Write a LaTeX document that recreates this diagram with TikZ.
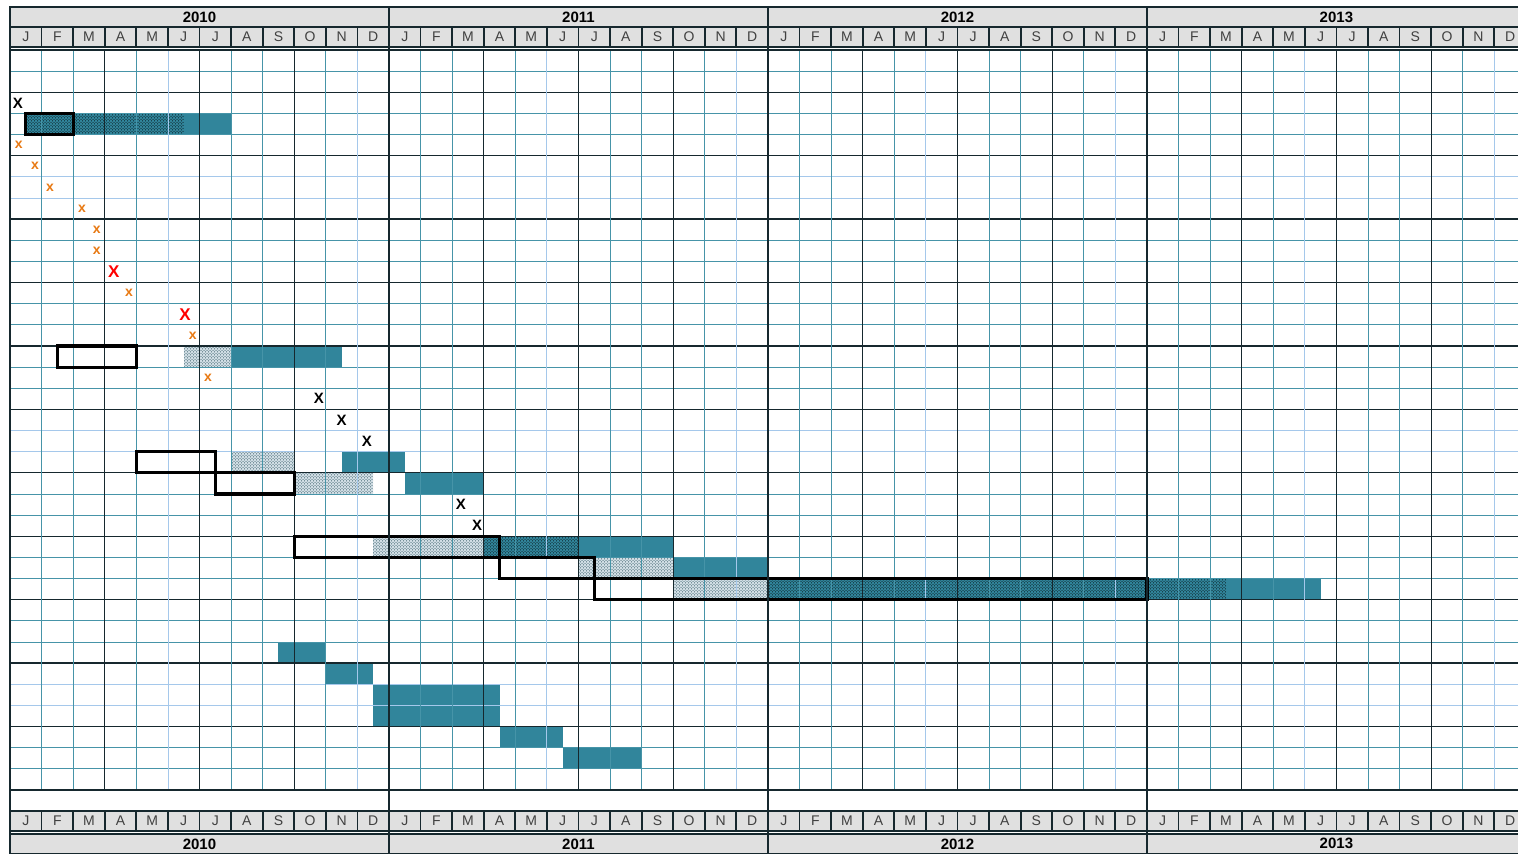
\documentclass[tikz,border=0pt]{standalone}
\usepackage{fontspec}
\setmainfont{Liberation Sans}
\usetikzlibrary{patterns}

\definecolor{barteal}{RGB}{49,133,155}
\definecolor{gridteal}{RGB}{70,148,168}
\definecolor{gridlight}{RGB}{165,200,235}
\definecolor{griddark}{RGB}{22,40,46}
\definecolor{headgray}{RGB}{224,224,224}
\definecolor{markorange}{RGB}{232,122,20}
\definecolor{hatchbg}{RGB}{210,223,230}

\tikzset{
  bar/.style={fill=barteal},
  darkhatch/.style={pattern=crosshatch dots, pattern color=black},
  lighthatch/.style={fill=hatchbg, postaction={pattern=crosshatch dots, pattern color=barteal!50!black}},
  planbox/.style={draw=black, line width=3.2pt},
  minorline/.style={draw=gridteal, line width=0.8pt},
  lightline/.style={draw=gridlight, line width=0.8pt},
  majorline/.style={draw=griddark, line width=1.3pt},
  yearline/.style={draw=griddark, line width=2.2pt},
  yearcell/.style={fill=headgray, draw=griddark, line width=1.6pt},
  monthcell/.style={fill=headgray, draw=griddark, line width=1.8pt},
  yearlbl/.style={font=\fontsize{15}{15}\selectfont\bfseries},
  monthlbl/.style={font=\fontsize{14}{14}\selectfont, text=black!75},
  mkblack/.style={font=\fontsize{15}{15}\selectfont\bfseries},
  mkorange/.style={font=\fontsize{14}{14}\selectfont\bfseries, text=markorange},
  mkred/.style={font=\fontsize{17}{17}\selectfont\bfseries, text=red},
}

\begin{document}
\begin{tikzpicture}[x=31.58pt,y=-21.14pt]
\useasboundingbox (-0.317,-2.365) rectangle (47.75,38.19);
\clip (-0.317,-2.365) rectangle (47.75,38.19);
\fill[white] (-0.317,-2.365) rectangle (47.75,38.19);

% bars
\fill[bar] (0.5,3) rectangle (7,4);
\fill[darkhatch] (0.5,3) rectangle (5.5,4);
\fill[lighthatch] (5.5,14) rectangle (7,15);
\fill[bar] (7,14) rectangle (10.5,15);
\fill[lighthatch] (7,19) rectangle (9,20);
\fill[bar] (10.5,19) rectangle (12.5,20);
\fill[lighthatch] (9,20) rectangle (11.5,21);
\fill[bar] (12.5,20) rectangle (15,21);
\fill[lighthatch] (11.5,23) rectangle (15,24);
\fill[bar] (15,23) rectangle (21,24);
\fill[darkhatch] (15,23) rectangle (18,24);
\fill[lighthatch] (18,24) rectangle (21,25);
\fill[bar] (21,24) rectangle (24,25);
\fill[lighthatch] (21,25) rectangle (24,26);
\fill[bar] (24,25) rectangle (41.5,26);
\fill[darkhatch] (24,25) rectangle (38.5,26);
\fill[bar] (8.5,28) rectangle (10,29);
\fill[bar] (10,29) rectangle (11.5,30);
\fill[bar] (11.5,30) rectangle (15.5,32);
\fill[bar] (15.5,32) rectangle (17.5,33);
\fill[bar] (17.5,33) rectangle (20,34);

% grid
\foreach \r in {1,...,34} \draw[minorline] (0,\r) -- (48,\r);
\foreach \r in {6,7,18,19,30,31} \draw[lightline] (0,\r) -- (48,\r);
\foreach \r in {2,5,...,32} \draw[majorline] (0,\r) -- (48,\r);
\foreach \m in {1,...,47} \draw[minorline] (\m,0) -- (\m,35);
\foreach \m in {5,11,17,23,29,35,41,47} \draw[lightline] (\m,0) -- (\m,35);
\foreach \m in {3,6,...,45} \draw[majorline] (\m,0) -- (\m,35);
\draw[majorline] (0,-0.14) -- (48,-0.14);
\draw[yearline] (0,0) -- (48,0);
\draw[yearline] (0,35) -- (48,35);
\draw[majorline] (0,36) -- (48,36);

% plan boxes
\draw[planbox] (0.5,3) rectangle (2,4);
\draw[planbox] (1.5,14) rectangle (4,15);
\draw[planbox] (4,19) rectangle (6.5,20);
\draw[planbox] (6.5,20) rectangle (9,21);
\draw[planbox] (9,23) rectangle (15.5,24);
\draw[planbox] (15.5,24) rectangle (18.5,25);
\draw[planbox] (18.5,25) rectangle (36,26);

% header and footer
\foreach \yr [count=\k from 0] in {2010,2011,2012,2013} {
  \draw[yearcell] (12*\k,-2.03) rectangle ++(12,0.94);
  \node[yearlbl] (topyear\yr) at (12*\k+6,-1.56) {\yr};
  \draw[yearcell] (12*\k,37.09) rectangle ++(12,0.91);
  \node[yearlbl] (botyear\yr) at (12*\k+6,37.55) {\yr};
  \foreach \mo [count=\j from 0] in {J,F,M,A,M,J,J,A,S,O,N,D} {
    \draw[monthcell] (12*\k+\j,-1.09) rectangle ++(1,0.95);
    \node[monthlbl] (topmonth\k-\j) at (12*\k+\j+0.5,-0.615) {\mo};
    \draw[monthcell] (12*\k+\j,36) rectangle ++(1,0.95);
    \node[monthlbl] (botmonth\k-\j) at (12*\k+\j+0.5,36.475) {\mo};
  }
}
\draw[majorline] (0,37.09) -- (48,37.09);
\foreach \m in {0,12,24,36} \draw[yearline] (\m,-2.03) -- (\m,38);

% marks
\foreach \col/\row/\kind/\txt [count=\i] in {
  0.25/2/mkblack/X, 0.28/4/mkorange/x, 0.79/5/mkorange/x, 1.27/6/mkorange/x,
  2.28/7/mkorange/x, 2.75/8/mkorange/x, 2.75/9/mkorange/x, 3.29/10/mkred/X,
  3.77/11/mkorange/x, 5.54/12/mkred/X, 5.79/13/mkorange/x, 6.27/15/mkorange/x,
  9.78/16/mkblack/X, 10.5/17/mkblack/X, 11.3/18/mkblack/X,
  14.28/21/mkblack/X, 14.79/22/mkblack/X}
  \node[\kind] (mark\i) at (\col,\row+0.5) {\txt};
\end{tikzpicture}
\end{document}
